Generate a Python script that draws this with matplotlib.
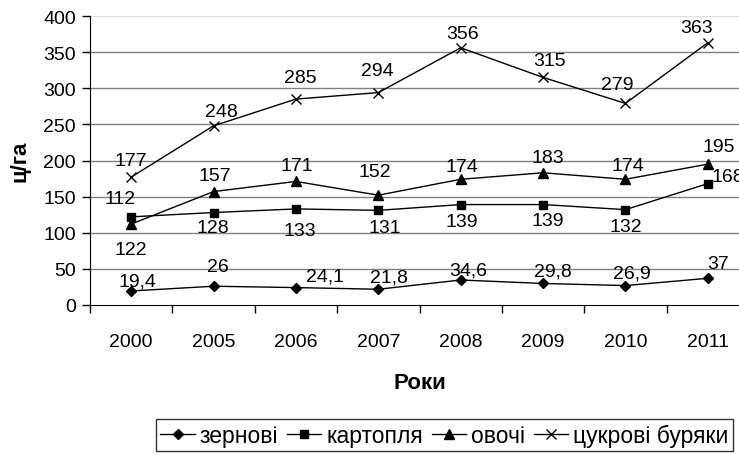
import matplotlib.pyplot as plt
import numpy as np
from matplotlib.lines import Line2D

plt.rcParams['font.family'] = ['Liberation Sans', 'DejaVu Sans']

years = ["2000", "2005", "2006", "2007", "2008", "2009", "2010", "2011"]
grain = [19.4, 26, 24.1, 21.8, 34.6, 29.8, 26.9, 37]
potato = [122, 128, 133, 131, 139, 139, 132, 168]
vegetables = [112, 157, 171, 152, 174, 183, 174, 195]
sugar_beet = [177, 248, 285, 294, 356, 315, 279, 363]
series_names = ["зернові", "картопля", "овочі", "цукрові буряки"]

# зсуви підписів у пікселях (dx, dy), підібрані під оригінал
grain_off = [(6, 10), (4, 20), (29, 12), (11, 12), (8, 10), (10, 12), (6, 13), (10, 15)]
potato_off = [(0, -33), (-1, -15), (4, -22), (6, -17), (1, -17), (5, -16), (0, -17), (20, 7)]
veg_off = [(-11, 26), (1, 16), (1, 16), (-3, 24), (1, 13), (5, 15), (2, 14), (11, 18)]
beet_off = [(0, 17), (8, 14), (4, 22), (-1, 22), (2, 14), (6, 17), (-8, 19), (-11, 15)]

fig = plt.figure(figsize=(7.39, 4.56), dpi=100)
ax = fig.add_axes([90 / 739, 1 - 306 / 456, 659 / 739, 289 / 456])

x = np.arange(len(years))
styles = [
    (grain, 'D', 5.0, grain_off),
    (potato, 's', 5.4, potato_off),
    (vegetables, '^', 6.5, veg_off),
    (sugar_beet, 'x', 6.5, beet_off),
]

handles = []
for (vals, mk, ms, offs), name in zip(styles, series_names):
    ax.plot(x, vals, color='black', lw=1.0, marker=mk, ms=ms,
            mec='black', mfc='black', mew=1.0, zorder=3, clip_on=False)
    handles.append(Line2D([], [], color='black', lw=1.0, marker=mk, ms=ms,
                          mec='black', mfc='black', mew=1.0, label=name))
    for xi, v, (dx, dy) in zip(x, vals, offs):
        txt = f"{v:g}".replace('.', ',')
        ax.annotate(txt, (xi, v), xytext=(dx, dy), textcoords='offset pixels',
                    ha='center', va='center', fontsize=14, zorder=4)

ax.set_xlim(-0.5, len(years) - 0.5)
ax.set_ylim(0, 400)
ax.set_yticks(np.arange(0, 401, 50))
for yv in range(50, 400, 50):
    ax.axhline(yv, color='#808080', lw=1.0, zorder=1)
ax.axhline(400, color='#dddddd', lw=1.0, zorder=1)

ax.set_xticks(x)
ax.set_xticklabels(years)
ax.set_xticks(np.arange(-0.5, len(years), 1), minor=True)
ax.tick_params(axis='x', which='major', length=0, pad=20, labelsize=14)
ax.tick_params(axis='x', which='minor', length=6, width=1, color='black')
ax.tick_params(axis='y', length=6, width=1, labelsize=14, pad=4)

for side in ['top', 'right']:
    ax.spines[side].set_visible(False)
ax.spines['left'].set_color('black')
ax.spines['bottom'].set_color('black')

ax.set_ylabel("ц/га", fontsize=16, fontweight='bold', labelpad=9)
ax.set_xlabel("Роки", fontsize=16, fontweight='bold', labelpad=16)

leg = fig.legend(handles=handles, loc='center right', bbox_to_anchor=(733 / 739, 1 - 436 / 456),
                 ncol=4, fontsize=16.5, frameon=True, fancybox=False,
                 handlelength=1.5, handletextpad=0.2, columnspacing=0.4,
                 borderpad=0.2, borderaxespad=0)
leg.get_frame().set_edgecolor('black')
leg.get_frame().set_linewidth(1.0)

fig.savefig("out.png", dpi=100)
